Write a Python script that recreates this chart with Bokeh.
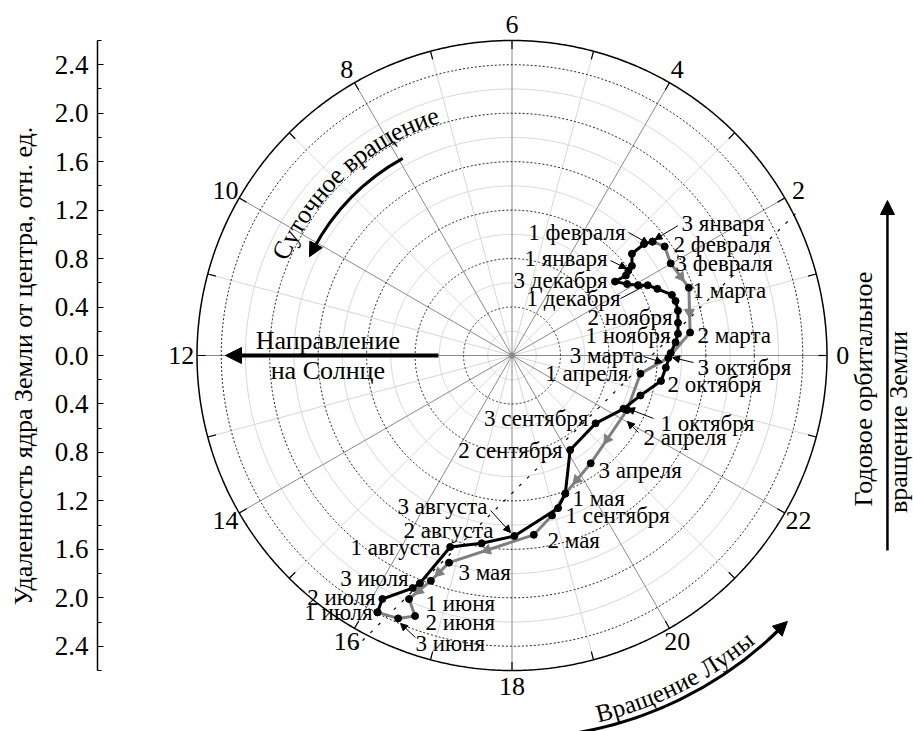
import numpy as np
from bokeh.plotting import figure
from bokeh.models import (Range1d, LinearAxis, FixedTicker, CustomJSTickFormatter,
                          Arrow, NormalHead, ColumnDataSource)
from bokeh.core.properties import value
from bokeh.embed import file_html
from bokeh.resources import INLINE

FONT = "Liberation Serif"

# Position of the Earth's core relative to the centre, rel. units (x - towards 0 h, y - towards 6 h)
# 1 July -> 1 February
black_x = [-1.11, -1.07, -0.82, -0.76, -0.51, -0.25, 0.02, 0.38, 0.44, 0.48, 0.69,
           0.92, 1.06, 1.23, 1.27, 1.31, 1.35, 1.37, 1.37, 1.37, 1.35, 1.32, 1.20,
           1.12, 1.04, 0.95, 0.85, 0.94, 0.96, 0.99, 0.99, 1.09, 1.16]
black_y = [-2.12, -2.01, -1.92, -1.88, -1.58, -1.55, -1.49, -1.26, -1.14, -0.78, -0.56,
           -0.44, -0.33, -0.21, -0.10, 0.02, 0.11, 0.18, 0.27, 0.37, 0.45, 0.50, 0.55,
           0.58, 0.58, 0.59, 0.61, 0.66, 0.70, 0.74, 0.84, 0.92, 0.94]
# 1 February -> 1 July
gray_x = [1.16, 1.26, 1.31, 1.46, 1.47, 1.29, 1.06, 0.95, 0.65, 0.44, 0.33, 0.18,
          -0.52, -0.67, -0.85, -0.80, -0.94, -1.11]
gray_y = [0.94, 0.90, 0.76, 0.56, 0.19, -0.02, -0.15, -0.45, -0.89, -1.14, -1.32, -1.48,
          -1.71, -1.86, -2.01, -2.15, -2.17, -2.12]

# ten-day period captions
label_text = ["3 января", "2 февраля", "3 февраля", "1 марта", "2 марта", "3 октября",
              "2 октября", "1 февраля", "1 января", "3 декабря", "1 декабря", "2 ноября",
              "1 ноября", "3 марта", "1 апреля", "1 октября", "2 апреля", "3 сентября",
              "2 сентября", "3 апреля", "1 мая", "1 сентября", "2 мая", "3 августа",
              "2 августа", "1 августа", "3 мая", "3 июля", "2 июля", "1 июля",
              "1 июня", "2 июня", "3 июня"]
label_x = [1.40, 1.333, 1.35, 1.49, 1.531, 1.531, 1.284, 0.937, 0.788, 0.788, 0.896, 1.325,
           1.308, 1.085, 0.962, 1.226, 1.085, 0.631, 0.417, 0.714, 0.499, 0.442, 0.293,
           -0.202, -0.153, -0.59, -0.442, -0.854, -1.127, -1.151, -0.714, -0.714, -0.797]
label_y = [1.09, 0.916, 0.759, 0.537, 0.165, -0.099, -0.239, 1.015, 0.801, 0.619, 0.47,
           0.314, 0.165, 0.0, -0.149, -0.561, -0.677, -0.52, -0.784, -0.949, -1.18, -1.321,
           -1.527, -1.246, -1.444, -1.585, -1.791, -1.841, -1.998, -2.121, -2.047, -2.204,
           -2.377]
label_align = ["left"] * 7 + ["right"] * 8 + ["left", "left", "right", "right", "left",
               "left", "left", "left", "right", "right", "right", "left", "right", "right",
               "right", "left", "left", "left"]

# leader arrows from captions to their points
lead_x0 = [1.370, 0.962, 0.813, 1.085, 1.498, 1.168, 1.044, -0.177, -0.797]
lead_y0 = [1.072, 1.015, 0.784, -0.008, -0.058, -0.520, -0.636, -1.279, -2.328]
lead_x1 = [1.179, 1.127, 0.945, 1.242, 1.325, 0.953, 0.953, -0.012, -0.920]
lead_y1 = [0.957, 0.924, 0.718, -0.058, -0.017, -0.437, -0.545, -1.461, -2.212]

# straight dashed line across the diagram
dash_x = [2.34, -1.317]
dash_y = [1.17, -2.435]

hour_labels = [str(h) for h in range(0, 24, 2)]
major_ticks = [-2.4, -2.0, -1.6, -1.2, -0.8, -0.4, 0.0, 0.4, 0.8, 1.2, 1.6, 2.0, 2.4]
minor_ticks = [-2.6, -2.2, -1.8, -1.4, -1.0, -0.6, -0.2, 0.2, 0.6, 1.0, 1.4, 1.8, 2.2, 2.6]

# ---------------------------------------------------------------- layout
W, H = 913, 731
PX = 121.15            # pixels per relative unit
CX, CY = 511.5, 355.0  # centre of the polar diagram on the canvas
LEFT = 97              # position of the distance axis
R_OUT = 2.6

p = figure(width=W, height=H, output_backend="svg", toolbar_location=None,
           x_axis_type=None, y_axis_type=None,
           x_range=Range1d((LEFT - CX) / PX, (W - CX) / PX),
           y_range=Range1d(-(H - CY) / PX, CY / PX),
           min_border_left=LEFT, min_border_right=0, min_border_top=0, min_border_bottom=0)
p.outline_line_color = None
p.background_fill_color = "white"

axis = LinearAxis(ticker=FixedTicker(ticks=major_ticks, minor_ticks=minor_ticks),
                  formatter=CustomJSTickFormatter(code="return Math.abs(tick).toFixed(1);"),
                  bounds=(-R_OUT, R_OUT),
                  axis_label="Удаленность ядра Земли от центра, отн. ед.")
axis.axis_line_color = "black"
axis.axis_line_width = 1.5
axis.major_tick_in = 6
axis.major_tick_out = 0
axis.minor_tick_in = 4
axis.minor_tick_out = 0
axis.major_tick_line_color = "black"
axis.minor_tick_line_color = "black"
axis.major_label_standoff = 9
axis.major_label_text_font = FONT
axis.major_label_text_font_size = "27px"
axis.major_label_text_color = "black"
axis.axis_label_text_font = FONT
axis.axis_label_text_font_size = "26px"
axis.axis_label_text_font_style = "normal"
axis.axis_label_text_color = "black"
axis.axis_label_standoff = 14
p.add_layout(axis, "left")

# ---------------------------------------------------------------- polar grid
t = np.linspace(0, 2 * np.pi, 721)
light_r = [0.2, 0.6, 1.0, 1.4, 1.8, 2.2]
dotted_r = [0.4, 0.8, 1.2, 1.6, 2.0, 2.4]
p.multi_line([list(r * np.cos(t)) for r in light_r], [list(r * np.sin(t)) for r in light_r],
             line_color="#d6d6d6", line_width=1)
light_a = np.radians(np.arange(15, 360, 30))
p.multi_line([[0, R_OUT * np.cos(a)] for a in light_a], [[0, R_OUT * np.sin(a)] for a in light_a],
             line_color="#d6d6d6", line_width=1)
dark_a = np.radians(np.arange(0, 360, 30))
p.multi_line([[0, R_OUT * np.cos(a)] for a in dark_a], [[0, R_OUT * np.sin(a)] for a in dark_a],
             line_color="#8a8a8a", line_width=1)
p.multi_line([list(r * np.cos(t)) for r in dotted_r], [list(r * np.sin(t)) for r in dotted_r],
             line_color="#202020", line_width=1, line_dash="2 2")
p.line(R_OUT * np.cos(t), R_OUT * np.sin(t), line_color="black", line_width=1.5)
tick_a = np.radians(np.arange(0, 360, 15))
p.multi_line([[(R_OUT - 0.07) * np.cos(a), R_OUT * np.cos(a)] for a in tick_a],
             [[(R_OUT - 0.07) * np.sin(a), R_OUT * np.sin(a)] for a in tick_a],
             line_color="black", line_width=1.2)
p.scatter([0], [0], size=5, color="#8a8a8a")

# hour captions round the rim
hour_a = np.radians(np.arange(0, 360, 30))
R_LAB = 2.73
p.text(R_LAB * np.cos(hour_a), R_LAB * np.sin(hour_a), text=hour_labels,
       text_align="center", text_baseline="middle", text_font=value(FONT),
       text_font_size="26px", text_color="black")

p.line(dash_x, dash_y, line_color="black", line_width=1.2, line_dash="3 8")

# ---------------------------------------------------------------- core trajectory
p.line(gray_x, gray_y, line_color="#7f7f7f", line_width=3)
p.line(black_x, black_y, line_color="black", line_width=3)

# direction marks on the grey branch
seg = [2, 3, 7, 8, 11, 12, 13]
gx = np.array(gray_x)
gy = np.array(gray_y)
mx = gx[seg] + 0.55 * (gx[[s + 1 for s in seg]] - gx[seg])
my = gy[seg] + 0.55 * (gy[[s + 1 for s in seg]] - gy[seg])
ang = np.arctan2(gy[[s + 1 for s in seg]] - gy[seg], gx[[s + 1 for s in seg]] - gx[seg]) - np.pi / 2
p.scatter(mx, my, marker="triangle", size=10, angle=ang, color="#7f7f7f")

p.scatter(black_x, black_y, size=7, color="black")
p.scatter(gray_x, gray_y, size=7, color="black")

# captions
lab = ColumnDataSource(dict(x=label_x, y=label_y, text=label_text, align=label_align))
p.text("x", "y", text="text", source=lab, text_align="align", text_baseline="middle",
       text_font=value(FONT), text_font_size="23px", text_color="black")
p.add_layout(Arrow(end=NormalHead(size=7, fill_color="black", line_color="black"),
                   source=ColumnDataSource(dict(x0=lead_x0, y0=lead_y0, x1=lead_x1, y1=lead_y1)),
                   x_start="x0", y_start="y0", x_end="x1", y_end="y1",
                   line_color="black", line_width=1))
p.line([0.896, 1.102], [0.470, 0.578], line_color="black", line_width=1)

# ---------------------------------------------------------------- annotations
EM = {" ": 0.25, "С": 0.667, "у": 0.5, "т": 0.453, "о": 0.5, "ч": 0.5, "н": 0.535,
      "е": 0.444, "в": 0.472, "р": 0.5, "а": 0.444, "щ": 0.77, "и": 0.535, "В": 0.667,
      "Л": 0.667, "ы": 0.7}


def arc_text(s, r, mid_deg, size, clockwise):
    widths = [EM.get(ch, 0.5) * size for ch in s]
    total = sum(widths)
    xs, ys, rot = [], [], []
    run = 0.0
    for w in widths:
        d = (run + w / 2 - total / 2) / (r * PX)
        th = np.radians(mid_deg) + (-d if clockwise else d)
        xs.append(r * np.cos(th))
        ys.append(r * np.sin(th))
        rot.append(th - np.pi / 2 if clockwise else th + np.pi / 2)
        run += w
    p.text(xs, ys, text=list(s), angle=rot, text_align="center", text_baseline="middle",
           text_font=value(FONT), text_font_size=f"{size}px", text_color="black")


def arc_arrow(r, a0, a1, head):
    p.arc(0, 0, radius=r, start_angle=np.radians(a0), end_angle=np.radians(a1 - 2),
          direction="anticlock", line_color="black", line_width=3)
    p.add_layout(Arrow(end=NormalHead(size=head, fill_color="black", line_color="black"),
                       x_start=r * np.cos(np.radians(a1 - 4)), y_start=r * np.sin(np.radians(a1 - 4)),
                       x_end=r * np.cos(np.radians(a1)), y_end=r * np.sin(np.radians(a1)),
                       line_color="black", line_width=3))


# daily rotation
arc_arrow(1.86, 119, 154, 14)
arc_text("Суточное вращение", 2.08, 132.2, 26, True)

# Moon rotation
arc_arrow(3.16, -82, -44, 14)
arc_text("Вращение Луны", 3.04, -63.2, 25, False)

# direction to the Sun
p.add_layout(Arrow(end=NormalHead(size=16, fill_color="black", line_color="black"),
                   x_start=-0.607, y_start=0.0, x_end=-2.365, y_end=0.0,
                   line_color="black", line_width=4))
p.text([-1.52, -1.52], [0.125, -0.12], text=["Направление", "на Солнце"],
       text_align="center", text_baseline="middle", text_font=value(FONT),
       text_font_size="26px", text_color="black")

# annual orbital motion
p.add_layout(Arrow(end=NormalHead(size=14, fill_color="black", line_color="black"),
                   x_start=3.099, y_start=-1.61, x_end=3.099, y_end=1.279,
                   line_color="black", line_width=2.5))
p.text([2.905, 3.19], [-0.277, -0.549], text=["Годовое орбитальное", "вращение Земли"],
       angle=np.pi / 2, text_align="center", text_baseline="middle", text_font=value(FONT),
       text_font_size="26px", text_color="black")

open("out.html", "w").write(file_html(p, INLINE))
